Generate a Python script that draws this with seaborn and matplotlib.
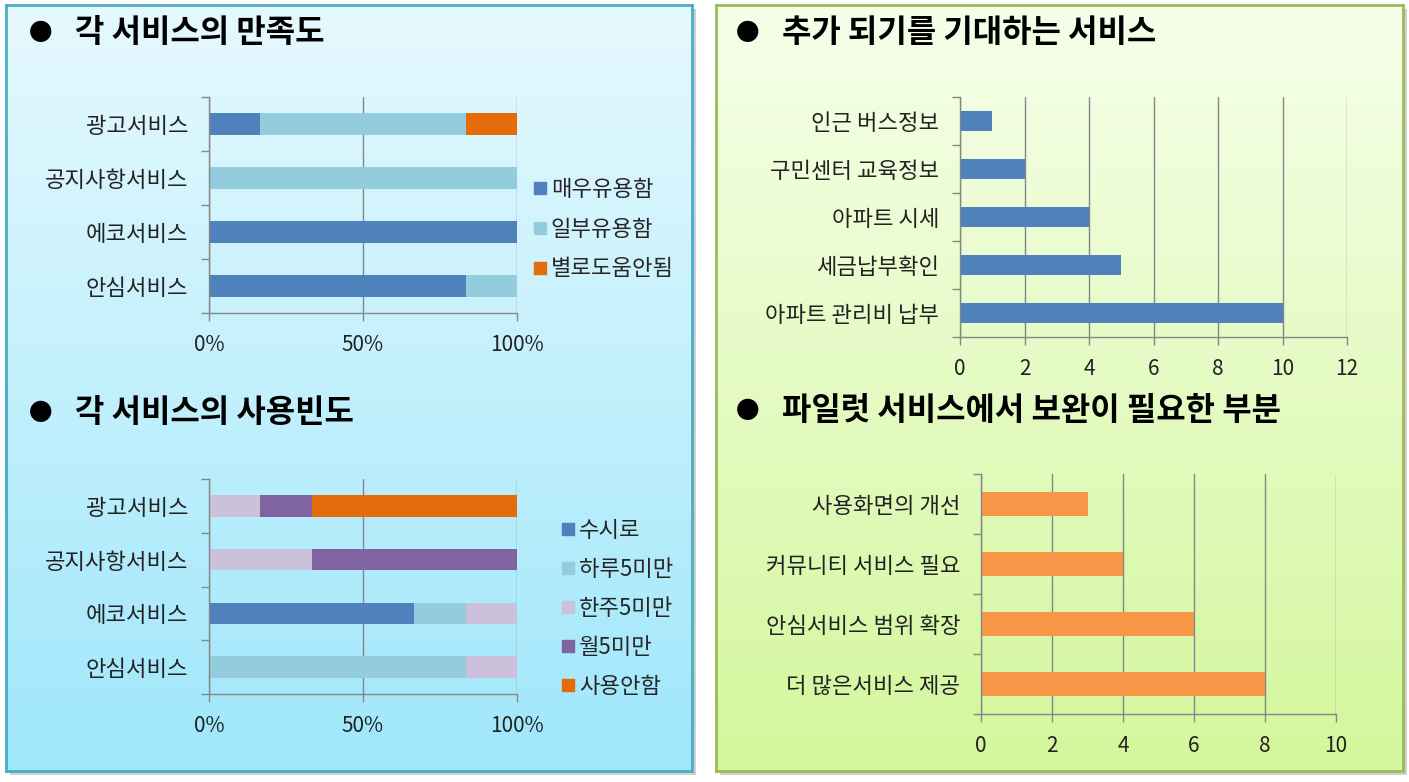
import matplotlib
matplotlib.use('Agg')
import matplotlib.pyplot as plt
from matplotlib.colors import LinearSegmentedColormap
from matplotlib.lines import Line2D
import numpy as np
import pandas as pd
import seaborn as sns

sns.set_theme(style='white')
plt.rcParams['font.family'] = ['Noto Sans CJK KR', 'DejaVu Sans']

W, H = 1409, 782

# ---- data ----
services = ['광고서비스', '공지사항서비스', '에코서비스', '안심서비스']

sat_labels = ['매우유용함', '일부유용함', '별로도움안됨']
sat_very = [1, 0, 6, 5]
sat_some = [4, 6, 0, 1]
sat_none = [1, 0, 0, 0]

freq_labels = ['수시로', '하루5미만', '한주5미만', '월5미만', '사용안함']
freq_anytime = [0, 0, 4, 0]
freq_day = [0, 0, 1, 5]
freq_week = [1, 2, 1, 1]
freq_month = [1, 4, 0, 0]
freq_never = [4, 0, 0, 0]

wish_items = ['인근 버스정보', '구민센터 교육정보', '아파트 시세', '세금납부확인', '아파트 관리비 납부']
wish_counts = [1, 2, 4, 5, 10]

fix_items = ['사용화면의 개선', '커뮤니티 서비스 필요', '안심서비스 범위 확장', '더 많은서비스 제공']
fix_counts = [3, 4, 6, 8]

c_blue = '#4f81bd'
c_lblue = '#93cddd'
c_orange = '#e46c0a'
c_lav = '#ccc1da'
c_purple = '#8064a2'
c_orange2 = '#f79646'
grid_c = '#868686'
FS = 15
LFS = 16


def px_axes(fig, x0, y0, x1, y1):
    return fig.add_axes([x0 / W, 1 - y1 / H, (x1 - x0) / W, (y1 - y0) / H])


def panel(fig, x0, y0, x1, y1, top, bottom, edge):
    sh = fig.add_axes([(x0 + 4) / W, 1 - (y1 + 4) / H, (x1 - x0) / W, (y1 - y0) / H])
    sh.set_facecolor('#d0d0d0')
    sh.set_xticks([]); sh.set_yticks([])
    for s in sh.spines.values():
        s.set_visible(False)
    ax = px_axes(fig, x0, y0, x1, y1)
    cmap = LinearSegmentedColormap.from_list('g', [bottom, top])
    grad = np.linspace(0, 1, 256).reshape(-1, 1)
    ax.imshow(grad, aspect='auto', cmap=cmap, origin='lower', extent=[0, 1, 0, 1])
    ax.set_xticks([]); ax.set_yticks([])
    for s in ax.spines.values():
        s.set_color(edge)
        s.set_linewidth(2)
    return ax


def style_axes(ax, n, xticks, fmt):
    ax.set_facecolor('none')
    ax.set_xlim(xticks[0], xticks[-1])
    ax.set_ylim(n - 0.5, -0.5)
    ax.set_xticks(xticks)
    ax.set_xticklabels([fmt(t) for t in xticks], fontsize=FS, color='#222222')
    ax.set_yticks(np.arange(-0.5, n, 1.0), minor=True)
    ax.tick_params(axis='y', which='major', length=0, pad=15, labelsize=LFS, labelcolor='#222222')
    ax.tick_params(axis='y', which='minor', length=6, color=grid_c, width=1, left=True)
    ax.tick_params(axis='x', which='major', length=6, color=grid_c, width=1, pad=9, bottom=True)
    ax.xaxis.grid(True, color=grid_c, linewidth=1)
    ax.yaxis.grid(False)
    ax.set_axisbelow(True)
    for s in ['top', 'right']:
        ax.spines[s].set_visible(False)
    for s in ['left', 'bottom']:
        ax.spines[s].set_color(grid_c)
        ax.spines[s].set_linewidth(1)
    ax.set_xlabel('')
    ax.set_ylabel('')


def stacked(ax, series, colors):
    total = np.sum(series, axis=0)
    pct = [np.array(s) / total * 100 for s in series]
    cum = np.cumsum(pct, axis=0)
    for i in range(len(series) - 1, -1, -1):
        df = pd.DataFrame({'service': services, 'value': cum[i]})
        sns.barplot(data=df, y='service', x='value', color=colors[i], width=0.4,
                    saturation=1, orient='h', ax=ax, zorder=2, linewidth=0)


def square_legend(ax, labels, colors, x, y, spacing):
    handles = [Line2D([0], [0], marker='s', linestyle='none', markersize=9,
                      markerfacecolor=c, markeredgecolor=c) for c in colors]
    ax.legend(handles, labels, loc='upper left', bbox_to_anchor=(x / W, 1 - y / H),
              bbox_transform=fig.transFigure, frameon=False, fontsize=LFS,
              handletextpad=0.2, labelspacing=spacing, borderpad=0, handlelength=0.6)


def title(fig, x, y, text):
    fig.text((x - 46) / W, 1 - y / H, '●', fontsize=17, va='center', ha='left', color='black')
    fig.text(x / W, 1 - y / H, text, fontsize=23, fontweight='bold', va='center',
             ha='left', color='black')


fig = plt.figure(figsize=(W / 100, H / 100), dpi=100)
fig.patch.set_facecolor('white')

panel(fig, 6, 5, 692, 771, '#e6f9fe', '#9fe7fb', '#4bacc6')
panel(fig, 716, 5, 1403, 771, '#f6ffea', '#d3f79c', '#9bbb59')

pct_fmt = lambda t: f'{int(t)}%'
num_fmt = lambda t: f'{int(t)}'

# satisfaction
ax1 = px_axes(fig, 209, 97, 517, 313)
stacked(ax1, [sat_very, sat_some, sat_none], [c_blue, c_lblue, c_orange])
style_axes(ax1, 4, [0, 50, 100], pct_fmt)
square_legend(ax1, sat_labels, [c_blue, c_lblue, c_orange], 522, 167, 0.75)

# usage frequency
ax2 = px_axes(fig, 209, 479, 517, 694)
stacked(ax2, [freq_anytime, freq_day, freq_week, freq_month, freq_never],
        [c_blue, c_lblue, c_lav, c_purple, c_orange])
style_axes(ax2, 4, [0, 50, 100], pct_fmt)
square_legend(ax2, freq_labels, [c_blue, c_lblue, c_lav, c_purple, c_orange], 550, 508, 0.72)

# expected services
ax3 = px_axes(fig, 960, 97, 1347, 337)
sns.barplot(x=wish_counts, y=wish_items, color=c_blue, saturation=1, width=0.4,
            orient='h', ax=ax3, zorder=2, linewidth=0)
style_axes(ax3, len(wish_items), [0, 2, 4, 6, 8, 10, 12], num_fmt)

# improvements
ax4 = px_axes(fig, 981, 474, 1336, 714)
sns.barplot(x=fix_counts, y=fix_items, color=c_orange2, saturation=1, width=0.4,
            orient='h', ax=ax4, zorder=2, linewidth=0)
style_axes(ax4, len(fix_items), [0, 2, 4, 6, 8, 10], num_fmt)

title(fig, 75, 33, '각 서비스의 만족도')
title(fig, 75, 413, '각 서비스의 사용빈도')
title(fig, 782, 33, '추가 되기를 기대하는 서비스')
title(fig, 782, 411, '파일럿 서비스에서 보완이 필요한 부분')

fig.savefig('out.png', dpi=100)
